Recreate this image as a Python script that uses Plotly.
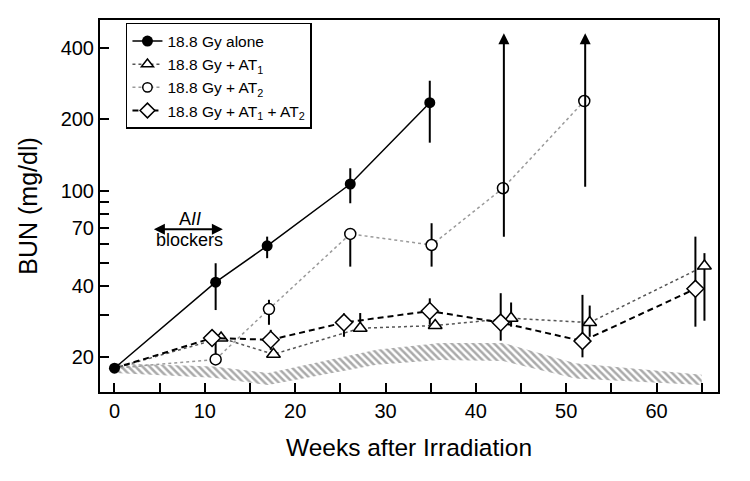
import numpy as np
import plotly.graph_objects as go

# ---- data ----
weeks_alone = [0, 11.2, 16.9, 26.1, 34.9]
bun_alone = [18.0, 41.4, 58.8, 107, 235]
alone_hi = [18.0, 49.7, 64.3, 124.6, 290.6]
alone_lo = [18.0, 31.6, 52.2, 88.8, 159.6]

weeks_at1 = [0, 11.8, 17.6, 27.2, 35.5, 43.9, 52.6, 65.3]
bun_at1 = [18.0, 24.1, 20.6, 26.5, 27.2, 29.2, 28.0, 48.4]
at1_hi = [18.0, 24.1, 20.6, 30.7, 27.2, 34.0, 33.0, 54.8]
at1_lo = [18.0, 24.1, 20.6, 26.5, 27.2, 26.9, 24.4, 28.5]

weeks_at2 = [0, 11.2, 17.1, 26.1, 35.1, 43.0, 52.0]
bun_at2 = [18.0, 19.6, 31.9, 66.0, 59.3, 102.7, 238.8]
at2_hi = [18.0, 23.0, 34.9, 69.7, 73.2, 102.7, 238.8]
at2_lo = [18.0, 18.6, 27.4, 48.1, 48.1, 102.7, 238.8]
# open-ended error bars (arrows) for AT2 at 43 and 52 weeks
arrow_weeks = [43.1, 52.1]
arrow_lo = [63.3, 102.7]
arrow_top = [460, 460]

weeks_both = [0, 10.8, 17.3, 25.4, 34.9, 42.75, 51.8, 64.3]
bun_both = [18.0, 24.1, 23.7, 28.0, 31.3, 28.0, 23.4, 38.8]
both_hi = [18.0, 24.1, 26.1, 30.6, 35.4, 37.2, 36.6, 64.3]
both_lo = [18.0, 24.1, 21.5, 24.4, 27.4, 23.5, 20.0, 26.9]

band_weeks = [0, 11, 17, 29, 36, 43, 51, 65]
band_upper = [18.9, 18.3, 17.2, 21.5, 23.0, 23.0, 18.9, 16.9]
band_lower = [17.2, 16.4, 15.3, 18.6, 19.5, 19.3, 16.3, 15.3]

x_tickvals = list(range(0, 70, 5))
x_ticktext = [str(v) if v % 10 == 0 else "" for v in x_tickvals]
y_tickvals = [20, 30, 40, 50, 60, 70, 80, 90, 100, 200, 400]
y_ticktext = ["20", "", "40", "", "", "70", "", "", "100", "200", "400"]

FONT = "Liberation Sans, Arial, Helvetica, sans-serif"


def err(vals, hi, lo):
    return dict(type="data", array=[h - v for h, v in zip(hi, vals)],
                arrayminus=[v - l for v, l in zip(vals, lo)],
                color="black", thickness=2, width=0)


def sizes(n, s):
    # the shared week-0 point is drawn only by the "alone" series
    return [0] + [s] * (n - 1)


fig = go.Figure()

# hatched control band
fig.add_trace(go.Scatter(x=band_weeks, y=band_lower, mode="lines",
                         line=dict(width=0, color="rgba(0,0,0,0)"),
                         showlegend=False, hoverinfo="skip"))
fig.add_trace(go.Scatter(x=band_weeks, y=band_upper, mode="lines",
                         line=dict(width=0, color="rgba(0,0,0,0)"),
                         fill="tonexty", fillcolor="rgba(0,0,0,0)",
                         fillpattern=dict(shape="\\", fgcolor="#555555",
                                          bgcolor="rgba(255,255,255,0)",
                                          size=5, solidity=0.5),
                         showlegend=False, hoverinfo="skip"))

fig.add_trace(go.Scatter(
    x=weeks_at2, y=bun_at2, mode="lines+markers", name="18.8 Gy + AT<sub>2</sub>",
    line=dict(color="#9a9a9a", width=1.5, dash="dot"),
    marker=dict(symbol="circle", size=sizes(len(weeks_at2), 11), color="white",
                opacity=1, line=dict(color="black", width=1.5)),
    error_y=err(bun_at2, at2_hi, at2_lo)))

fig.add_trace(go.Scatter(
    x=weeks_at1, y=bun_at1, mode="lines+markers", name="18.8 Gy + AT<sub>1</sub>",
    line=dict(color="#555555", width=1.5, dash="dot"),
    marker=dict(symbol="triangle-up", size=sizes(len(weeks_at1), 12), color="white",
                opacity=1, line=dict(color="black", width=1.5)),
    error_y=err(bun_at1, at1_hi, at1_lo)))

fig.add_trace(go.Scatter(
    x=weeks_both, y=bun_both, mode="lines+markers",
    name="18.8 Gy + AT<sub>1</sub> + AT<sub>2</sub>",
    line=dict(color="black", width=2, dash="6px,4px"),
    marker=dict(symbol="diamond", size=sizes(len(weeks_both), 13), color="white",
                opacity=1, line=dict(color="black", width=1.5)),
    error_y=err(bun_both, both_hi, both_lo)))

fig.add_trace(go.Scatter(
    x=weeks_alone, y=bun_alone, mode="lines+markers", name="18.8 Gy alone",
    line=dict(color="black", width=1.5),
    marker=dict(symbol="circle", size=11, color="black", opacity=1),
    error_y=err(bun_alone, alone_hi, alone_lo)))

annotations = []
for w, lo, top in zip(arrow_weeks, arrow_lo, arrow_top):
    annotations.append(dict(x=w, y=np.log10(top), ax=w, ay=np.log10(lo),
                            xref="x", yref="y", axref="x", ayref="y",
                            text="", showarrow=True, arrowhead=2,
                            arrowsize=1.1, arrowwidth=2, arrowcolor="black"))
# AII blockers double arrow
annotations.append(dict(x=12, y=np.log10(69), ax=4.2, ay=np.log10(69),
                        xref="x", yref="y", axref="x", ayref="y",
                        text="", showarrow=True, arrowhead=2, arrowside="end+start",
                        arrowsize=1.1, arrowwidth=2, arrowcolor="black"))
annotations.append(dict(x=8.35, y=np.log10(76.3), xref="x", yref="y",
                        text="A<i>II</i>", showarrow=False,
                        font=dict(size=18, color="black", family=FONT)))
annotations.append(dict(x=8.35, y=np.log10(62.3), xref="x", yref="y",
                        text="blockers", showarrow=False,
                        font=dict(size=18, color="black", family=FONT)))

fig.update_layout(
    width=750, height=481,
    margin=dict(l=100, r=32, t=20, b=89),
    paper_bgcolor="white", plot_bgcolor="white",
    font=dict(family=FONT, color="black"),
    annotations=annotations,
    legend=dict(x=0.042, y=0.992, xanchor="left", yanchor="top",
                bgcolor="white", bordercolor="black", borderwidth=1.5,
                font=dict(size=15.5, family=FONT, color="black"),
                traceorder="normal", itemwidth=30,
                ),
    xaxis=dict(range=[-1.6, 66.8], tickvals=x_tickvals, ticktext=x_ticktext,
               ticks="inside", ticklen=9, tickwidth=2, tickcolor="black",
               showline=True, linecolor="black", linewidth=2, mirror=True,
               showgrid=False, zeroline=False, automargin=False,
               tickfont=dict(size=20, family=FONT),
               title=dict(text="Weeks after Irradiation",
                          font=dict(size=24.5, family=FONT), standoff=18)),
    yaxis=dict(type="log", range=[np.log10(14.3), np.log10(523)],
               tickvals=y_tickvals, ticktext=y_ticktext,
               ticks="inside", ticklen=9, tickwidth=2, tickcolor="black",
               showline=True, linecolor="black", linewidth=2, mirror=True,
               showgrid=False, zeroline=False, automargin=False,
               tickfont=dict(size=20, family=FONT),
               title=dict(text="BUN (mg/dl)",
                          font=dict(size=25, family=FONT), standoff=16)),
)

# legend order: alone, AT1, AT2, AT1+AT2
order = ["18.8 Gy alone", "18.8 Gy + AT<sub>1</sub>", "18.8 Gy + AT<sub>2</sub>",
         "18.8 Gy + AT<sub>1</sub> + AT<sub>2</sub>"]
for tr in fig.data:
    if tr.name in order:
        tr.legendrank = order.index(tr.name) + 1

fig.write_html("out.html", config={"displayModeBar": False},
               post_script="document.body.style.margin='0';")
